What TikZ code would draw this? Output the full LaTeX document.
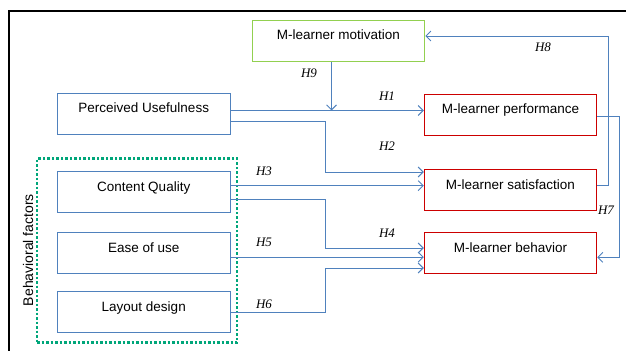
\documentclass[tikz,border=0pt]{standalone}
\usepackage{fontspec}
\setmainfont{Liberation Serif}
\setsansfont{Liberation Sans}
\usetikzlibrary{arrows.meta}
\definecolor{lineblue}{RGB}{79,129,189}
\definecolor{boxred}{RGB}{204,0,0}
\definecolor{boxgreen}{RGB}{146,208,80}
\definecolor{dotgreen}{RGB}{0,166,122}

\begin{document}
\begin{tikzpicture}[x=1pt, y=-1pt, >={Straight Barb[length=5pt,width=10pt]},
                    every node/.style={font=\sffamily\fontsize{13.5}{16}\selectfont},
                    factor/.style={draw=lineblue, line width=0.8pt, minimum width=172.5pt,
                                   minimum height=41pt, text height=10pt, text depth=12pt, inner sep=0pt},
                    outcome/.style={factor, draw=boxred, line width=1pt},
                    link/.style={draw=lineblue, line width=0.9pt, ->},
                    hyp/.style={font=\rmfamily\itshape\fontsize{13}{15}\selectfont}]
\useasboundingbox (0,0) rectangle (626,351);

% frame
\draw[line width=1.8pt] (626,11) -- (9,11) -- (9,351);

% group of behavioral factors
\node[draw=dotgreen, line width=2.5pt, dash pattern=on 2.5pt off 2pt,
      minimum width=200pt, minimum height=184pt] (group) at (137,250.5) {};
\node[rotate=90, font=\sffamily\fontsize{14}{16}\selectfont] (grouplabel) at (28,250) {Behavioral factors};

% boxes
\node[factor, draw=boxgreen, line width=1pt] (mot) at (338.5,40.5) {M-learner motivation};
\node[factor] (pu) at (143.75,113.5) {Perceived Usefulness};
\node[factor] (cq) at (143.75,192.2) {Content Quality};
\node[factor] (eou) at (143.75,253.2) {Ease of use};
\node[factor] (ld) at (143.75,312) {Layout design};
\node[outcome] (perf) at (510.5,114.5) {M-learner performance};
\node[outcome] (sat) at (510.5,190) {M-learner satisfaction};
\node[outcome] (beh) at (510.5,253) {M-learner behavior};

\coordinate (bus) at (325.7,0);

% hypotheses
\coordinate (h1s) at ([yshift=3pt]pu.east);
\draw[link] (h1s) -- (h1s -| perf.west);
\coordinate (h9s) at ([xshift=-7pt]mot.south);
\draw[link] (h9s) -- (h9s |- h1s);
\coordinate (h2s) at ([yshift=-8pt]pu.east);
\coordinate (h2e) at ([yshift=18pt]sat.west);
\draw[link] (h2s) -- (h2s -| bus) |- (h2e);
\coordinate (h3s) at ([yshift=6.5pt]cq.east);
\draw[link] (h3s) -- (h3s -| sat.west);
\coordinate (h4s) at ([yshift=-7pt]cq.east);
\coordinate (h4e) at ([yshift=5pt]beh.west);
\draw[link] (h4s) -- (h4s -| bus) |- (h4e);
\coordinate (h5s) at ([yshift=-4pt]eou.east);
\draw[link] (h5s) -- (h5s -| beh.west);
\coordinate (h6s) at ([yshift=-0.7pt]ld.east);
\coordinate (h6e) at ([yshift=-15pt]beh.west);
\draw[link] (h6s) -- (h6s -| bus) |- (h6e);
\coordinate (h7s) at ([yshift=-1.5pt]perf.east);
\coordinate (h7e) at ([yshift=-4.3pt]beh.east);
\draw[link] (h7s) -- ++(22,0) |- (h7e);
\coordinate (h8s) at ([yshift=5pt]sat.east);
\coordinate (h8e) at ([yshift=4.5pt]mot.east);
\draw[link] (h8s) -- ++(11,0) |- (h8e);

% labels
\node[hyp] (lh9) at (309,73) {H9};
\node[hyp] (lh1) at (387,96) {H1};
\node[hyp] (lh2) at (387,146) {H2};
\node[hyp] (lh3) at (264,171) {H3};
\node[hyp] (lh4) at (387,233) {H4};
\node[hyp] (lh5) at (264,242) {H5};
\node[hyp] (lh6) at (264,304) {H6};
\node[hyp] (lh7) at (606,210) {H7};
\node[hyp] (lh8) at (543,47) {H8};
\end{tikzpicture}
\end{document}
